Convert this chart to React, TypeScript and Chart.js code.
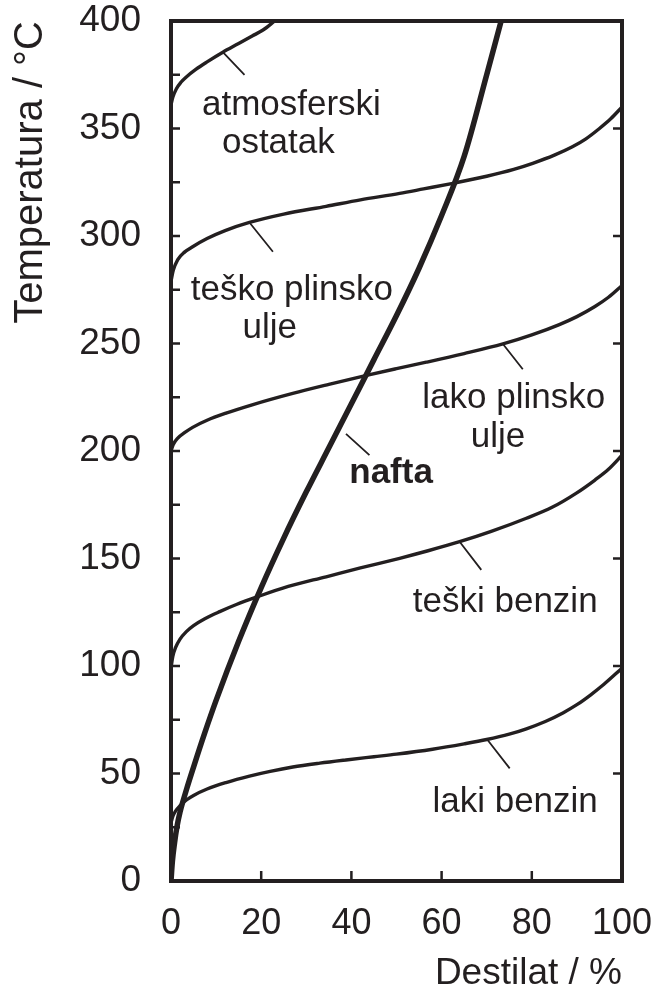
import { useEffect, useRef } from "react";
import { Chart, registerables } from "chart.js";

Chart.register(...registerables);

// ---------- data ----------
const xTicks = [0, 20, 40, 60, 80, 100];
const yTicks = [0, 50, 100, 150, 200, 250, 300, 350, 400];

const lakiBenzinX = [0, 0.4, 1, 2, 3.5, 5, 8, 12.2, 17.4, 22, 27, 33, 38.8, 45, 50, 58, 65, 70, 75, 78.8, 83, 87, 90, 93, 96, 100];
const lakiBenzinY = [27, 30, 32.5, 35, 37.8, 39.8, 42.8, 45.8, 48.8, 51, 53, 54.8, 56.3, 57.8, 59, 61.3, 63.8, 65.8, 68.3, 70.8, 74.2, 78.3, 82, 86.5, 91.5, 99];

const teskiBenzinX = [0, 0.4, 1, 2, 3.4, 5, 7.5, 10.8, 14.5, 18.9, 26, 34.4, 42, 50.7, 57, 64, 71, 78.8, 84.5, 89.8, 94, 97, 100];
const teskiBenzinY = [99, 104.5, 108.5, 112.5, 116, 118.8, 122, 125.3, 128.6, 132, 137, 141.5, 145.6, 150.1, 153.6, 157.8, 162.6, 168.7, 173.8, 180.3, 186.5, 191.5, 198];

const lakoPlinskoX = [0, 0.5, 1.5, 3, 4.8, 8, 12.2, 18, 27, 35, 43.6, 50, 56.6, 65, 73.6, 80, 86.1, 90, 94, 97, 100];
const lakoPlinskoY = [200, 203, 206, 208.5, 211, 214.3, 217.6, 221.5, 226.8, 231, 235.3, 238.3, 241.3, 245.3, 249.8, 254, 258.8, 262.5, 267.2, 271.5, 277];

const teskoPlinskoX = [0, 0.5, 1.5, 3, 4.8, 8, 12, 17.4, 25, 34.4, 42, 50.7, 56, 62.5, 70, 76, 80.2, 85, 89, 92, 95, 97.5, 100];
const teskoPlinskoY = [279, 284, 289, 292.5, 295, 298.8, 302.5, 306.3, 310.2, 313.8, 316.8, 319.8, 321.9, 324.5, 327.8, 331, 333.8, 337.6, 341.5, 345.2, 350, 354.5, 360];

const atmOstatakX = [0, 0.4, 1.2, 2.2, 3.4, 5.5, 8, 11.5, 15, 18, 20.4, 23];
const atmOstatakY = [361, 364.5, 368.5, 371.5, 374, 377.5, 381, 385.5, 389.5, 393, 395.8, 400];

const naftaX = [0, 0.3, 0.8, 1.3, 2, 3.5, 5, 7.5, 10, 15, 20, 25, 30, 35, 40, 45, 50, 55, 60, 65, 70, 73.2];
const naftaY = [0, 9, 18, 25, 32, 43, 53, 69, 84, 111.5, 136.5, 159.5, 181, 201.5, 222, 242.5, 263, 285, 309.5, 337, 375, 400];

// curve labels (anchored in data coordinates)
const labelTexts = ["atmosferski", "ostatak", "teško plinsko", "ulje", "lako plinsko", "ulje", "nafta", "teški benzin", "laki benzin"];
const labelX = [26.7, 23.8, 26.8, 21.9, 76, 72.5, 48.8, 74.1, 76.3];
const labelY = [356.3, 338.5, 270.2, 252.4, 219.9, 202, 185, 125.3, 32.2];
const labelBold = [false, false, false, false, false, false, true, false, false];

// leader lines from curves to labels (data coordinates)
const leaderX1 = [11.5, 17.4, 73.6, 38.8, 64, 70.2];
const leaderY1 = [385.5, 306.3, 249.8, 208, 157.8, 65.6];
const leaderX2 = [16.3, 22.6, 78, 44, 68.8, 75.1];
const leaderY2 = [374.9, 292.7, 238, 198.1, 144.7, 52.4];

const INK = "#231f20";
const FONT = '"Liberation Sans", Arial, Helvetica, sans-serif';

const pts = (xs: number[], ys: number[]) => xs.map((x, i) => ({ x, y: ys[i] }));

const framePlugin = {
  id: "frameAndTicks",
  afterDatasetsDraw(chart: any) {
    const { ctx, chartArea: a, scales } = chart;
    const xs = scales.x;
    const ys = scales.y;
    ctx.save();
    ctx.strokeStyle = INK;
    // inward ticks
    ctx.lineWidth = 2.5;
    ctx.beginPath();
    for (let v = 25; v < 400; v += 25) {
      const py = ys.getPixelForValue(v);
      ctx.moveTo(a.left, py);
      ctx.lineTo(a.left + 9, py);
      if (v % 50 === 0) {
        ctx.moveTo(a.right, py);
        ctx.lineTo(a.right - 9, py);
      }
    }
    for (let v = 20; v < 100; v += 20) {
      const px = xs.getPixelForValue(v);
      ctx.moveTo(px, a.bottom);
      ctx.lineTo(px, a.bottom - 10);
    }
    ctx.stroke();
    // frame
    ctx.lineWidth = 4;
    ctx.strokeRect(a.left, a.top, a.right - a.left, a.bottom - a.top);
    ctx.restore();
  },
  afterDraw(chart: any) {
    const { ctx, scales } = chart;
    const xs = scales.x;
    const ys = scales.y;
    ctx.save();
    ctx.strokeStyle = INK;
    ctx.lineWidth = 1.8;
    ctx.beginPath();
    for (let i = 0; i < leaderX1.length; i++) {
      ctx.moveTo(xs.getPixelForValue(leaderX1[i]), ys.getPixelForValue(leaderY1[i]));
      ctx.lineTo(xs.getPixelForValue(leaderX2[i]), ys.getPixelForValue(leaderY2[i]));
    }
    ctx.stroke();
    ctx.fillStyle = INK;
    ctx.textAlign = "center";
    ctx.textBaseline = "alphabetic";
    for (let i = 0; i < labelTexts.length; i++) {
      ctx.font = `${labelBold[i] ? "bold " : ""}35px ${FONT}`;
      ctx.fillText(labelTexts[i], xs.getPixelForValue(labelX[i]), ys.getPixelForValue(labelY[i]));
    }
    ctx.restore();
  },
};

export default function App() {
  const ref = useRef<HTMLCanvasElement | null>(null);

  useEffect(() => {
    document.body.style.margin = "0";
    const canvas = ref.current;
    if (!canvas) return;
    const line = (data: { x: number; y: number }[], w: number) => ({
      data,
      borderColor: INK,
      borderWidth: w,
      pointRadius: 0,
      fill: false,
      cubicInterpolationMode: "monotone" as const,
      borderCapStyle: "round" as const,
      borderJoinStyle: "round" as const,
    });
    const chart = new Chart(canvas, {
      type: "line",
      data: {
        datasets: [
          line(pts(lakiBenzinX, lakiBenzinY), 3.4),
          line(pts(teskiBenzinX, teskiBenzinY), 3.4),
          line(pts(lakoPlinskoX, lakoPlinskoY), 3.4),
          line(pts(teskoPlinskoX, teskoPlinskoY), 3.4),
          line(pts(atmOstatakX, atmOstatakY), 3.4),
          line(pts(naftaX, naftaY), 5.5),
        ],
      },
      options: {
        responsive: false,
        animation: false,
        events: [],
        layout: { padding: { top: 21, right: 32, left: 0, bottom: 0 } },
        plugins: { legend: { display: false }, tooltip: { enabled: false } },
        scales: {
          x: {
            type: "linear",
            min: 0,
            max: 100,
            afterBuildTicks: (s: any) => {
              s.ticks = xTicks.map((v) => ({ value: v }));
            },
            afterFit: (s: any) => {
              s.height = 111;
              s.paddingLeft = 0;
              s.paddingRight = 0;
              s.paddingTop = 0;
              s.paddingBottom = 0;
            },
            grid: { display: false, drawTicks: false, tickLength: 0 },
            border: { display: false },
            ticks: {
              color: INK,
              padding: 25,
              maxRotation: 0,
              autoSkip: false,
              font: { family: FONT, size: 36, lineHeight: 1 },
            },
            title: {
              display: true,
              text: "Destilat / %",
              align: "end",
              color: INK,
              padding: 0,
              font: { family: FONT, size: 37, lineHeight: 1 },
            },
          },
          y: {
            type: "linear",
            min: 0,
            max: 400,
            afterBuildTicks: (s: any) => {
              s.ticks = yTicks.map((v) => ({ value: v }));
            },
            afterFit: (s: any) => {
              s.width = 171;
              s.paddingLeft = 0;
              s.paddingRight = 0;
              s.paddingTop = 0;
              s.paddingBottom = 0;
            },
            grid: { display: false, drawTicks: false, tickLength: 0 },
            border: { display: false },
            ticks: {
              color: INK,
              padding: 30,
              crossAlign: "near",
              autoSkip: false,
              font: { family: FONT, size: 37, lineHeight: 1 },
            },
            title: {
              display: true,
              text: "Temperatura / °C",
              align: "end",
              color: INK,
              padding: { top: 7, bottom: 0 },
              font: { family: FONT, size: 40, lineHeight: 1.2 },
            },
          },
        },
      },
      plugins: [framePlugin],
    });
    return () => chart.destroy();
  }, []);

  return (
    <div style={{ position: "absolute", left: 0, top: 0, width: 654, height: 992, background: "#fff" }}>
      <canvas ref={ref} width={654} height={992} style={{ display: "block", width: 654, height: 992 }} />
    </div>
  );
}
